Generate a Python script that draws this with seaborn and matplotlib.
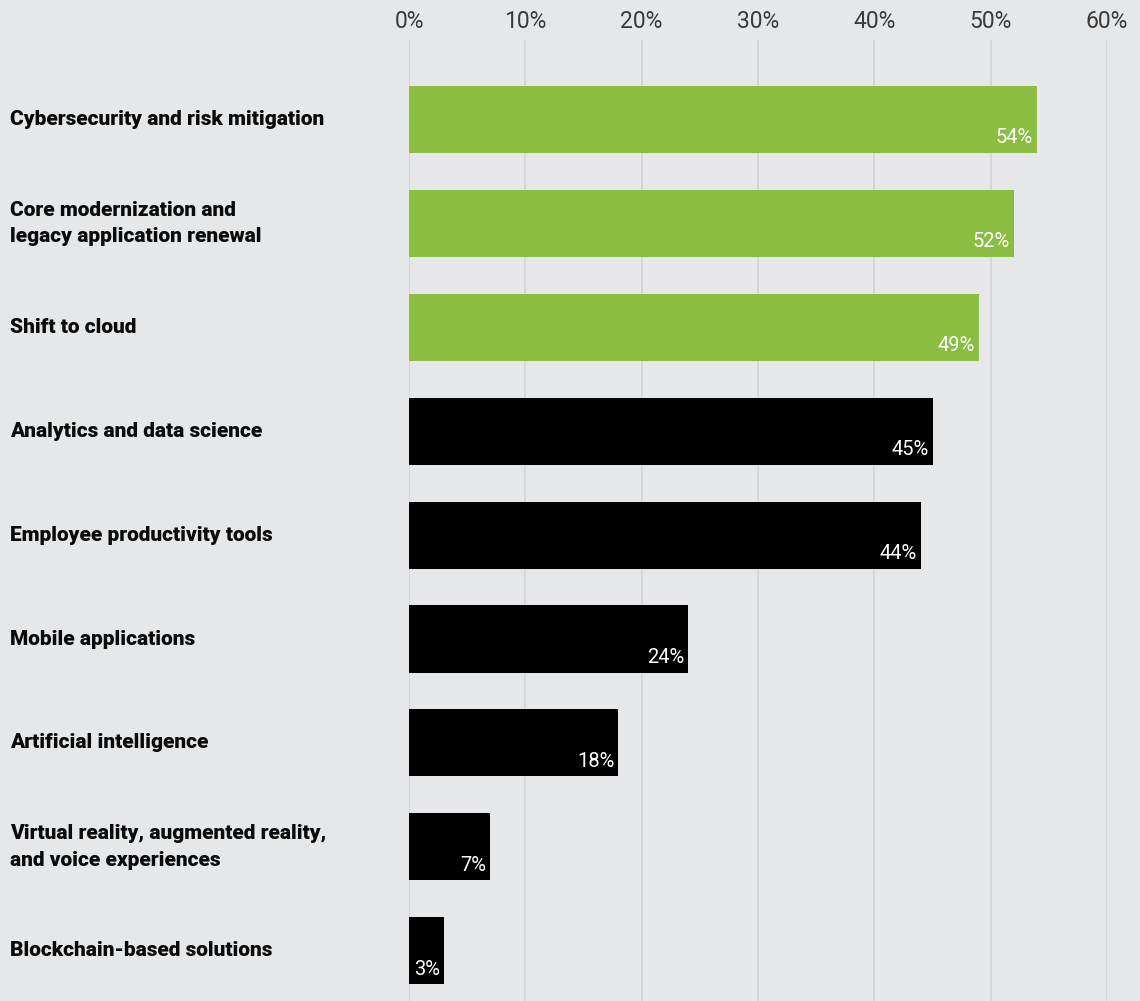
# TECH INVESTMENT PRIORITIES

import pandas as pd
import matplotlib.pyplot as plt
import seaborn as sns
from matplotlib.transforms import blended_transform_factory

# data
categories = [
    'Cybersecurity and risk mitigation',
    'Core modernization and\nlegacy application renewal',
    'Shift to cloud',
    'Analytics and data science',
    'Employee productivity tools',
    'Mobile applications',
    'Artificial intelligence',
    'Virtual reality, augmented reality,\nand voice experiences',
    'Blockchain-based solutions',
]
values = [54, 52, 49, 45, 44, 24, 18, 7, 3]
groups = ['top', 'top', 'top', 'rest', 'rest', 'rest', 'rest', 'rest', 'rest']
x_ticks = [0, 10, 20, 30, 40, 50, 60]

df = pd.DataFrame({'Category': categories, 'Value': values, 'Group': groups})

bg = '#e6e7e9'
sns.set_theme(style='white')
plt.rcParams['font.family'] = ['Roboto', 'DejaVu Sans']

fig = plt.figure(figsize=(11.4, 10.01), dpi=100, facecolor=bg)
ax = fig.add_axes([409 / 1140, 0.0, (1107 - 409) / 1140, 1 - 40 / 1001])
ax.set_facecolor(bg)

sns.barplot(data=df, x='Value', y='Category', hue='Group', dodge=False,
            palette={'top': '#8abd41', 'rest': '#000000'}, width=0.645,
            orient='h', legend=False, ax=ax, saturation=1, linewidth=0)

ax.set_xlim(0, 60)
ax.set_ylim(8.484, -0.765)
ax.set_xticks(x_ticks)
ax.set_xticklabels([f'{t}%' for t in x_ticks], fontsize=16.5,
                   color='#3a3a3a', fontweight='normal')
ax.xaxis.tick_top()
ax.tick_params(axis='x', length=0, pad=5)
ax.set_yticks([])
ax.set_xlabel('')
ax.set_ylabel('')
ax.grid(axis='x', color='#d2d3d5', linewidth=1.2)
ax.set_axisbelow(True)
for s in ax.spines.values():
    s.set_visible(False)

# category labels on the left
trans = blended_transform_factory(fig.transFigure, ax.transData)
for i, cat in enumerate(categories):
    ax.text(10 / 1140, i, cat, transform=trans, ha='left', va='center',
            fontsize=15, fontweight='heavy', color='#0a0a0a', linespacing=1.5)

# value labels inside bars
for i, v in enumerate(values):
    ax.annotate(f'{v}%', xy=(v, i + 0.645 / 2), xytext=(-3, 4),
                textcoords='offset points', ha='right', va='bottom',
                fontsize=14.5, color='white')

fig.savefig('out.png', dpi=100, facecolor=bg)
